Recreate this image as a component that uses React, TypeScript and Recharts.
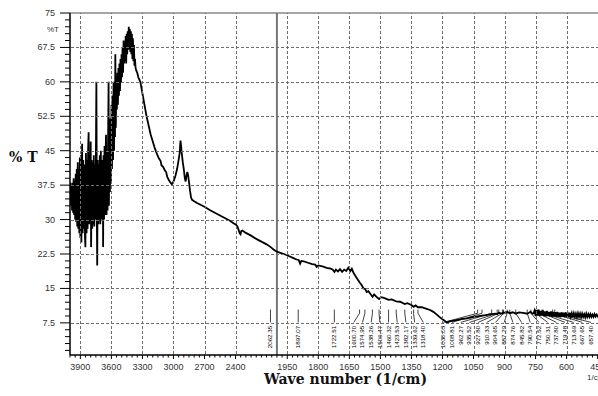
import React from 'react';
import { ComposedChart, Line, Scatter, XAxis, YAxis, ReferenceLine } from 'recharts';

// [wave number (1/cm), %T]
const ohRegion: [number, number][] = [
  [4000, 36], [3995, 38], [3990, 33], [3985, 37.5], [3980, 32], [3975, 38], [3970, 31.5], [3965, 39],
  [3960, 31], [3955, 38.5], [3950, 30], [3945, 40], [3940, 29.5], [3935, 41], [3930, 28.5], [3925, 42.5],
  [3920, 28], [3915, 41], [3910, 27], [3905, 43.5], [3900, 26], [3895, 44], [3890, 25], [3883, 46.5],
  [3878, 27], [3872, 43], [3866, 28], [3860, 42], [3855, 26], [3851, 24], [3846, 44.5], [3840, 27],
  [3835, 43], [3830, 28], [3825, 45], [3820, 49], [3815, 29], [3810, 44], [3805, 30], [3800, 47],
  [3796, 24], [3790, 43], [3785, 28], [3780, 42.5], [3775, 29], [3770, 44], [3765, 28.5], [3760, 42],
  [3755, 30], [3750, 43], [3745, 60], [3740, 29], [3737, 20], [3732, 43], [3727, 29], [3722, 42],
  [3717, 30], [3712, 44], [3707, 29], [3702, 45], [3697, 30], [3692, 43], [3687, 31], [3682, 42],
  [3680, 24], [3676, 44], [3671, 30], [3666, 46], [3661, 31], [3656, 44], [3652, 48.5], [3647, 31],
  [3642, 45], [3637, 32], [3632, 47], [3627, 60], [3624, 33], [3619, 49], [3614, 36], [3609, 52],
  [3604, 38], [3599, 55], [3594, 41], [3589, 57], [3584, 43], [3579, 60], [3574, 45], [3569, 58],
  [3565, 48], [3562, 66], [3557, 50], [3552, 61], [3547, 54], [3542, 62], [3537, 55], [3532, 63],
  [3527, 57], [3522, 64], [3517, 58], [3512, 65], [3507, 60], [3502, 66], [3497, 61], [3492, 67.5],
  [3487, 62], [3482, 69], [3477, 64], [3472, 68.5], [3467, 64.5], [3462, 70], [3457, 64], [3452, 70.5],
  [3447, 66], [3442, 71], [3437, 67], [3432, 72], [3427, 67], [3422, 71.5], [3417, 66.5], [3412, 71],
  [3407, 66], [3402, 70.5], [3397, 65], [3392, 69.5], [3387, 64.5], [3382, 68], [3377, 63.5], [3372, 65],
  [3366, 63], [3360, 62.5], [3350, 62], [3340, 61], [3330, 60.5], [3320, 60],
];

const chRegion: [number, number][] = [
  [3300, 57.5], [3280, 55], [3260, 52.5], [3240, 50.5], [3220, 48.5], [3200, 47], [3180, 45.5],
  [3160, 44.3], [3140, 43.3], [3125, 42.8], [3115, 41.8], [3100, 41.5], [3085, 40.8], [3070, 40.3],
  [3060, 39.3], [3045, 38.6], [3030, 38.1], [3015, 37.7], [3005, 38], [2995, 38.6], [2980, 39.6],
  [2965, 41], [2950, 43], [2940, 44.5], [2932, 47.2], [2926, 46], [2920, 44.5], [2910, 42.5],
  [2900, 41], [2890, 39], [2882, 38.3], [2874, 39.5], [2866, 40.4], [2858, 39.6], [2850, 38.2],
  [2840, 36.3], [2830, 34.8], [2820, 34.3], [2800, 34.0], [2772, 33.6], [2700, 32.8], [2650, 32.1],
  [2600, 31.5], [2550, 30.9], [2500, 30.3], [2450, 29.7], [2420, 29.2], [2395, 28.9], [2380, 28.4],
  [2368, 27.6], [2360, 27.0], [2352, 26.8], [2345, 27.5], [2335, 27.6], [2320, 27.4], [2300, 27.1],
  [2250, 26.5], [2200, 25.8], [2150, 25.2], [2100, 24.6], [2060, 24.0], [2033, 23.5], [2000, 23.0],
];

const fingerprint: [number, number][] = [
  [1980, 22.7], [1960, 22.4], [1940, 22.0], [1920, 21.6], [1905, 21.3], [1895, 21.2], [1888, 20.4],
  [1882, 21.0], [1870, 20.9], [1850, 20.6], [1830, 20.3], [1815, 20.2], [1808, 19.7], [1800, 20.0],
  [1780, 19.8], [1760, 19.5], [1740, 19.3], [1730, 19.1], [1722, 18.6], [1715, 19.1], [1705, 18.7],
  [1695, 19.2], [1685, 18.6], [1675, 19.1], [1665, 18.8], [1655, 19.5], [1645, 18.8], [1638, 19.3],
  [1630, 18.4], [1622, 17.8], [1612, 17.1], [1600, 16.3], [1590, 15.7], [1582, 15.0], [1574, 14.9],
  [1566, 14.2], [1558, 14.4], [1548, 13.8], [1538, 13.2], [1530, 13.7], [1520, 13.2], [1506, 12.7],
  [1495, 13.1], [1480, 12.9], [1460, 12.5], [1445, 12.6], [1424, 12.2], [1405, 12.1], [1382, 11.6],
  [1370, 11.8], [1350, 11.4], [1339, 11.0], [1330, 11.3], [1318, 10.9], [1300, 10.9], [1280, 10.6],
  [1260, 10.3], [1244, 9.9], [1230, 9.4], [1215, 8.8], [1200, 8.3], [1188, 7.9], [1178, 7.6],
  [1165, 7.8], [1145, 8.0], [1120, 8.2], [1100, 8.4], [1080, 8.5], [1050, 8.8], [1030, 8.9],
  [1010, 9.1], [990, 9.2], [962, 9.4], [945, 9.5], [935, 9.4], [928, 9.7], [920, 9.6], [910, 9.5],
  [904, 9.8], [895, 9.6], [887, 9.9], [875, 9.6], [860, 9.8], [846, 9.5], [830, 9.8], [810, 9.7],
  [790, 9.5], [775, 9.9], [765, 9.5],
];

const farIr: [number, number][] = [
  [760, 9.6], [755, 10.2], [750, 9.0], [745, 10.3], [740, 9.1], [735, 10.4], [730, 9.0], [725, 10.1],
  [720, 9.1], [715, 10.2], [710, 9.0], [705, 10.0], [700, 8.9], [695, 10.1], [690, 9.0], [685, 9.9],
  [680, 8.9], [675, 10.0], [670, 8.8], [665, 9.9], [660, 8.9], [655, 9.8], [650, 8.8], [645, 9.9],
  [640, 8.8], [635, 9.7], [630, 8.7], [625, 9.8], [620, 8.8], [615, 9.7], [610, 8.7], [605, 9.8],
  [600, 8.8], [595, 9.6], [590, 8.7], [585, 9.7], [580, 8.8], [575, 9.6], [570, 8.7], [565, 9.6],
  [560, 8.8], [555, 9.5], [550, 8.7], [545, 9.6], [540, 8.8], [535, 9.5], [530, 8.7], [525, 9.5],
  [520, 8.8], [515, 9.4], [510, 8.7], [505, 9.5], [500, 8.8], [495, 9.4], [490, 8.8], [485, 9.4],
  [480, 8.8], [475, 9.3], [470, 8.8], [465, 9.4], [460, 8.9], [455, 9.3], [450, 8.9], [445, 9.2],
  [440, 8.9], [420, 9.0], [400, 9.1],
];

const peakLabels = [
  '2062.35', '1897.07', '1722.51', '1600.70', '1574.95', '1538.26', '1506.47', '1460.32', '1423.53',
  '1382.17', '1339.62', '1318.40', '1030.03', '1008.81', '962.27', '935.52', '927.80', '910.33',
  '904.65', '887.29', '874.76', '845.82', '790.54', '772.52', '750.31', '737.80', '719.48', '713.69',
  '667.65', '657.40',
];

const xTickLabels = [3900, 3600, 3300, 3000, 2700, 2400, 1950, 1800, 1650, 1500, 1350, 1200, 1050, 900, 750, 600, 450];
const yTickLabels = [7.5, 15, 22.5, 30, 37.5, 45, 52.5, 60, 67.5, 75];

// the instrument draws 4000-2000 at half scale
const toU = (wn: number) => (wn >= 2000 ? (4000 - wn) / 2 : 1000 + (2000 - wn));
const toWn = (u: number) => (u <= 1000 ? 4000 - 2 * u : 2000 - (u - 1000));

const spectrum = [...ohRegion, ...chRegion, ...fingerprint, ...farIr].map(([wn, t]) => ({ u: toU(wn), t }));

const xMajor = xTickLabels.map(toU);
const xAll = Array.from({ length: 105 }, (_, i) => i * 25);
const yAll = Array.from({ length: 50 }, (_, i) => +((i + 1) * 1.5).toFixed(1));

const PLOT_W = 538;
const PLOT_H = 342;

// spread peak labels so they don't overlap (cluster + centre)
const GAP = 42;
function spread(us: number[]) {
  let clusters = us.map((u) => [u]);
  const mean = (c: number[]) => c.reduce((a, b) => a + b, 0) / c.length;
  const start = (c: number[]) => mean(c) - ((c.length - 1) * GAP) / 2;
  let changed = true;
  while (changed) {
    changed = false;
    for (let i = 0; i < clusters.length - 1; i++) {
      const a = clusters[i];
      const b = clusters[i + 1];
      if (start(a) + a.length * GAP > start(b)) {
        clusters.splice(i, 2, [...a, ...b]);
        changed = true;
        break;
      }
    }
  }
  return clusters.flatMap((c) => c.map((_, k) => start(c) + k * GAP));
}

const peakU = peakLabels.map((l) => toU(parseFloat(l)));
const slotU = spread(peakU);
const labelPoints = peakLabels.map((label, i) => ({ u: slotU[i], t: 7.5, label }));

const axisFont = '"Liberation Sans", Arial, sans-serif';
const gridStyle = { stroke: '#6e6e6e', strokeWidth: 1, strokeDasharray: '3 2', shapeRendering: 'crispEdges' as const };

const XTick = (props: any) => {
  const { x, y, payload } = props;
  const major = xMajor.includes(payload.value);
  const gx = Math.round(x) + 0.5;
  return (
    <g>
      {major && <line x1={gx} x2={gx} y1={y - 1} y2={y - PLOT_H} {...gridStyle} />}
      <line x1={x} x2={x} y1={y} y2={y + (major ? 4 : 2.5)} stroke="#000" strokeWidth={1} />
      {major && (
        <text x={x} y={y + 15} textAnchor="middle" fontSize={9} fill="#333" fontFamily={axisFont}>
          {toWn(payload.value)}
        </text>
      )}
    </g>
  );
};

const YTick = (props: any) => {
  const { x, y, payload } = props;
  const major = yTickLabels.includes(payload.value);
  const gy = Math.round(y) + 0.5;
  return (
    <g>
      {major && payload.value < 75 && <line x1={x + 1} x2={x + PLOT_W} y1={gy} y2={gy} {...gridStyle} />}
      <line x1={x - (major ? 10 : 5)} x2={x} y1={y} y2={y} stroke="#000" strokeWidth={1} />
      {major && (
        <text x={x - 15} y={y + 3} textAnchor="end" fontSize={9} fill="#333" fontFamily={axisFont}>
          {payload.value}
        </text>
      )}
    </g>
  );
};

const PeakText = (props: any) => {
  const { cx, cy, payload } = props;
  const px = cx + 2;
  const py = cy + 3;
  return (
    <text
      x={px}
      y={py}
      transform={`rotate(-90 ${px} ${py})`}
      textAnchor="end"
      fontSize={6.2}
      fill="#000"
      fontFamily={axisFont}
    >
      {payload.label}
    </text>
  );
};

export default function App() {
  return (
    <div style={{ position: 'absolute', left: 0, top: 0, width: 598, height: 396, overflow: 'hidden', background: '#fff' }}>
      <ComposedChart width={640} height={396} data={spectrum} margin={{ top: 13, right: 32, bottom: 0, left: 10 }}>
        <XAxis
          dataKey="u"
          type="number"
          domain={[0, 2600]}
          ticks={xAll}
          interval={0}
          tick={<XTick />}
          tickLine={false}
          tickSize={0}
          tickMargin={0}
          height={41}
          axisLine={{ stroke: '#000', strokeWidth: 1.5 }}
          allowDataOverflow
        />
        <YAxis
          type="number"
          domain={[0.5, 75]}
          ticks={yAll}
          interval={0}
          tick={<YTick />}
          tickLine={false}
          tickSize={0}
          tickMargin={0}
          width={60}
          axisLine={{ stroke: '#000', strokeWidth: 1.5 }}
          allowDataOverflow
        />
        <ReferenceLine y={75} stroke="#888" strokeWidth={1.5} />
        <ReferenceLine x={1000} stroke="#777" strokeWidth={2} />
        {peakU.map((u, i) => (
          <ReferenceLine key={`pt${i}`} segment={[{ x: u, y: 10.4 }, { x: u, y: 9.6 }]} stroke="#111" strokeWidth={0.8} />
        ))}
        {peakU.map((u, i) => (
          <ReferenceLine key={`pl${i}`} segment={[{ x: u, y: 9.6 }, { x: slotU[i], y: 7.6 }]} stroke="#111" strokeWidth={0.8} />
        ))}
        <Line type="linear" dataKey="t" stroke="#000" strokeWidth={1.8} dot={false} isAnimationActive={false} />
        <Scatter data={labelPoints} dataKey="t" shape={<PeakText />} isAnimationActive={false} />
      </ComposedChart>
      <div style={{ position: 'absolute', left: 47, top: 25, fontSize: 8, fontFamily: axisFont, color: '#333' }}>%T</div>
      <div style={{ position: 'absolute', left: 9, top: 149, fontSize: 14, fontWeight: 'bold', fontFamily: '"DejaVu Serif", serif', color: '#111' }}>
        % T
      </div>
      <div style={{ position: 'absolute', left: 264, top: 371, fontSize: 14, fontWeight: 'bold', fontFamily: '"DejaVu Serif", serif', color: '#111' }}>
        Wave number (1/cm)
      </div>
      <div style={{ position: 'absolute', left: 587, top: 373, fontSize: 8, fontFamily: axisFont, color: '#333' }}>1/cm</div>
    </div>
  );
}
